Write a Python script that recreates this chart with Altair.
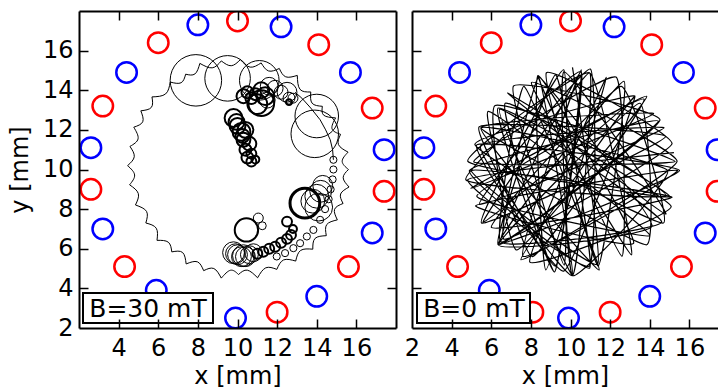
import altair as alt
import pandas as pd
import numpy as np

FONT = "DejaVu Sans"
H = 317
W_LEFT = 317
W_RIGHT = 306
TICKS = [4, 6, 8, 10, 12, 14, 16]

# ---- coil positions (mm) ----
red_x = [10.0, 6.0, 14.1, 3.2, 16.8, 2.6, 17.4, 4.3, 15.6, 12.0, 8.1]
red_y = [17.5, 16.4, 16.3, 13.2, 13.1, 9.0, 8.9, 5.1, 5.1, 2.8, 2.8]
blue_x = [8.0, 12.2, 4.4, 15.7, 2.6, 17.4, 3.2, 16.8, 5.9, 14.0, 9.9]
blue_y = [17.3, 17.2, 14.9, 14.9, 11.1, 11.0, 7.0, 6.8, 3.9, 3.6, 2.5]

# ---- B = 30 mT : skipping-orbit ring (polar about the ring centre) ----
RING_CX, RING_CY = 10.05, 10.0
ring_cusp_ang = [0, 9, 19, 28, 37, 47, 58, 68, 78, 89, 99, 110, 119, 128, 140, 149, 158, 168,
                 178, 188, 199, 210, 221, 231, 241, 251, 261, 270, 280, 291, 302, 313, 323,
                 333, 342, 351]
ring_cusp_rad = [5.55, 5.6, 5.45, 5.55, 5.3, 5.35, 5.6, 5.5, 5.5, 5.55, 5.55, 5.7, 5.5, 5.6,
                 5.7, 5.75, 5.7, 5.6, 5.6, 5.55, 5.5, 5.4, 5.45, 5.35, 5.45, 5.4, 5.55, 5.3,
                 5.55, 5.4, 5.45, 5.5, 5.55, 5.6, 5.55, 5.65]
ring_mid_ang = [4.5, 14, 23.5, 32.5, 42, 52.5, 63, 73, 83.5, 94, 104.5, 114.5, 123.5, 134,
                144.5, 153.5, 163, 173, 183, 193.5, 204.5, 215.5, 226, 236, 246, 256, 265.5,
                275, 285.5, 296.5, 307.5, 318, 328, 337.5, 346.5, 355.5]
ring_mid_rad = [5.25, 5.2, 5.15, 5.1, 5.0, 5.1, 5.25, 5.2, 5.2, 5.25, 5.3, 5.3, 5.25, 5.3,
                5.4, 5.4, 5.3, 5.3, 5.25, 5.2, 5.1, 5.1, 5.1, 5.05, 5.1, 5.15, 5.1, 5.1, 5.15,
                5.1, 5.15, 5.2, 5.25, 5.25, 5.3, 5.3]
arc_x = [12.9, 13.25, 13.7, 14.17, 14.45, 14.68, 14.8, 14.84]
arc_y = [13.9, 13.6, 13.1, 12.51, 12.0, 11.5, 11.0, 10.49]

# cyclotron orbits: centre, radius (mm), line weight
orb_x = [7.9, 9.5, 11.1, 14.0, 13.9, 12.5,
         10.3, 10.5, 10.7, 11.0, 11.4, 11.2, 11.6, 11.9, 12.2, 12.6, 12.6, 12.8, 11.2, 10.9, 11.5,
         9.8, 10.0, 10.2, 10.4, 10.3, 10.6, 10.4, 10.7, 10.5, 10.7, 10.9, 9.95, 10.25,
         9.8, 10.0, 10.2, 10.4, 10.6, 10.8, 9.9, 10.3, 10.45, 11.05, 11.25,
         11.0, 11.3, 11.6, 11.9, 12.2, 12.5, 12.7, 12.5, 12.8,
         13.4, 13.8, 14.0, 14.2, 14.3, 14.1,
         14.84, 14.84, 14.8, 14.7, 14.6, 14.42, 14.17, 13.83, 13.5, 13.16, 12.82, 12.4, 11.98]
orb_y = [14.5, 14.6, 14.5, 12.7, 11.8, 13.9,
         13.7, 13.9, 13.6, 13.3, 13.7, 14.0, 14.2, 14.1, 13.9, 13.6, 13.4, 13.6, 13.35, 13.8, 13.5,
         12.6, 12.2, 11.9, 12.0, 11.5, 11.3, 11.0, 10.8, 10.6, 10.4, 10.5, 12.4, 11.7,
         5.8, 5.7, 5.6, 5.6, 5.7, 5.8, 5.75, 5.65, 6.95, 7.55, 7.16,
         5.75, 5.85, 6.0, 6.1, 6.3, 6.5, 6.7, 7.37, 7.0,
         8.3, 8.4, 8.65, 8.9, 9.2, 8.1,
         10.49, 10.0, 9.5, 9.0, 8.5, 8.0, 7.46, 6.95, 6.62, 6.28, 6.03, 5.78, 5.61]
orb_r = [1.3, 1.15, 1.0, 1.1, 1.2, 0.5,
         0.35, 0.3, 0.3, 0.5, 0.45, 0.4, 0.45, 0.4, 0.35, 0.3, 0.15, 0.25, 0.65, 0.3, 0.4,
         0.45, 0.4, 0.45, 0.4, 0.35, 0.35, 0.3, 0.25, 0.3, 0.25, 0.2, 0.4, 0.35,
         0.55, 0.5, 0.5, 0.5, 0.45, 0.45, 0.5, 0.55, 0.59, 0.25, 0.2,
         0.25, 0.25, 0.25, 0.25, 0.25, 0.25, 0.25, 0.25, 0.2,
         0.75, 0.6, 0.6, 0.55, 0.5, 0.7,
         0.18, 0.18, 0.18, 0.18, 0.18, 0.18, 0.18, 0.18, 0.18, 0.18, 0.18, 0.18, 0.18]
orb_w = [1, 1, 1, 1, 1, 1,
         2, 2, 2, 2, 2, 2, 1, 1, 1, 1, 2, 1, 2, 2, 1,
         2, 2, 2, 2, 2, 2, 2, 2, 2, 2, 2, 2, 2,
         1, 1, 1, 1, 1, 1, 1, 1, 2, 1, 1,
         2, 2, 2, 2, 2, 2, 2, 2, 2,
         3, 1, 1, 1, 1, 1,
         1, 1, 1, 1, 1, 1, 1, 1, 1, 1, 1, 1, 1]

# ---- B = 0 mT : chaotic trajectory, bounce points read as angle (deg) / radius (mm)
TRAJ_CX, TRAJ_CY = 10.1, 9.95
traj_ang = [10,
            185, 280, 80, 200, 25, 165, 270, 80, 210, 50, 165, 315, 45, 225, 0, 165, 265, 50, 240, 5,
            115, 305, 80, 175, 345, 135, 260, 85, 185, 345, 130, 335, 95, 270, 0, 155, 285, 120, 225, 30,
            180, 280, 100, 225, 30, 125, 265, 95, 210, 20, 155, 260, 85, 240, 0, 200, 310, 110, 255, 70,
            245, 340, 140, 260, 85, 225, 330, 140, 270, 110, 225, 15, 105, 285, 60, 225, 325, 110, 300, 65,
            175, 5, 140, 235, 45, 195, 320, 145, 245, 45, 190, 35, 155, 330, 60, 215, 345, 180, 285, 90]
traj_rad = [5.2,
            5.3, 4.9, 5.2, 5.0, 5.1, 4.8, 5.3, 5.0, 5.2, 4.9, 5.1, 5.3, 4.8, 5.2, 5.4, 5.0, 5.1, 4.9, 5.2, 5.3,
            4.9, 5.2, 5.0, 5.3, 5.1, 4.8, 5.2, 5.0, 5.4, 4.9, 5.1, 5.2, 5.0, 5.3, 4.8, 5.1, 5.2, 4.9, 5.1, 5.0,
            5.2, 5.0, 4.9, 5.3, 5.1, 5.2, 4.8, 5.1, 5.3, 5.0, 5.2, 4.9, 5.1, 5.0, 5.3, 5.2, 4.8, 5.1, 5.2, 5.0,
            5.1, 5.3, 4.9, 5.2, 5.0, 5.1, 5.2, 4.8, 5.3, 5.0, 4.9, 5.2, 5.1, 5.0, 5.2, 5.3, 4.9, 5.1, 5.0, 5.2,
            5.0, 5.2, 5.1, 4.9, 5.3, 5.0, 5.1, 5.2, 4.8, 5.1, 5.2, 5.0, 5.1, 5.3, 4.9, 5.0, 5.2, 5.1, 4.9, 5.2]


def polar(cx, cy, ang, rad):
    a = np.radians(np.asarray(ang, dtype=float))
    r = np.asarray(rad, dtype=float)
    return cx + r * np.cos(a), cy + r * np.sin(a)


coil_red = pd.DataFrame({"x": red_x, "y": red_y})
coil_blue = pd.DataFrame({"x": blue_x, "y": blue_y})

cx_, cy_ = polar(RING_CX, RING_CY, ring_cusp_ang, ring_cusp_rad)
mx_, my_ = polar(RING_CX, RING_CY, ring_mid_ang, ring_mid_rad)
rows = []
n = len(ring_cusp_ang)
for k in range(n):
    j = (k + 1) % n
    rows += [{"x": cx_[k], "y": cy_[k], "seg": k, "o": 0},
             {"x": mx_[k], "y": my_[k], "seg": k, "o": 1},
             {"x": cx_[j], "y": cy_[j], "seg": k, "o": 2}]
ring = pd.DataFrame(rows)
arc = pd.DataFrame({"x": arc_x, "y": arc_y, "o": range(len(arc_x))})
orbits = pd.DataFrame({"x": orb_x, "y": orb_y, "r": orb_r, "w": orb_w})
tx_, ty_ = polar(TRAJ_CX, TRAJ_CY, traj_ang, traj_rad)
traj = pd.DataFrame({"x": tx_, "y": ty_, "o": range(len(traj_ang))})

YS = alt.Scale(domain=[2, 18], nice=False, zero=False)
XS_L = alt.Scale(domain=[2, 18], nice=False, zero=False)
XS_R = alt.Scale(domain=[2, 2 + 16 * W_RIGHT / W_LEFT], nice=False, zero=False)


def label_x_axis(vals):
    return alt.Axis(orient="bottom", values=vals, ticks=False, domain=False, grid=False,
                    labelFont=FONT, labelFontSize=24, labelColor="black",
                    labelPadding=8, labelFlush=False, labelOverlap=False,
                    title="x [mm]", titleFont=FONT, titleFontSize=24,
                    titleFontWeight="normal", titleColor="black",
                    titleBaseline="alphabetic", titleY=55, zindex=1)


def label_y_axis():
    return alt.Axis(orient="left", values=[2, 4, 6, 8, 10, 12, 14, 16], ticks=False,
                    domain=False, grid=False, labelFont=FONT, labelFontSize=24,
                    labelColor="black", labelPadding=6, labelFlush=False, labelOverlap=False,
                    title="y [mm]", titleFont=FONT, titleFontSize=24,
                    titleFontWeight="normal", titleColor="black", titlePadding=10, zindex=1)


def frame_axis(orient, off):
    return alt.Axis(orient=orient, offset=-off, values=TICKS, labels=False, title=None,
                    grid=False, tickSize=9, tickWidth=1.5, tickColor="black",
                    domainColor="black", domainWidth=2, zindex=1)


def panel(width, xs, xvals, show_y, right_frame, extra, text, box_x0, box_x1, text_x):
    red = alt.Chart(coil_red).mark_point(shape="circle", filled=False, color="#ff0000",
                                         strokeWidth=2.5, size=420, opacity=1, clip=True).encode(
        x=alt.X("x:Q", scale=xs, axis=label_x_axis(xvals)),
        y=alt.Y("y:Q", scale=YS, axis=label_y_axis() if show_y else None),
    )
    blue = alt.Chart(coil_blue).mark_point(shape="circle", filled=False, color="#0000ff",
                                           strokeWidth=2.5, size=420, opacity=1, clip=True).encode(
        x=alt.X("x:Q", scale=xs, axis=frame_axis("top", H)),
        y=alt.Y("y:Q", scale=YS, axis=frame_axis("right", width)),
    )
    first, rest = extra[0], extra[1:]
    first = first.encode(
        x=alt.X("x:Q", scale=xs, axis=frame_axis("bottom", H)),
        y=alt.Y("y:Q", scale=YS,
                axis=frame_axis("left", width) if right_frame else None),
    )
    rest = [c.encode(x=alt.X("x:Q", scale=xs, axis=None), y=alt.Y("y:Q", scale=YS, axis=None))
            for c in rest]
    d = alt.Data(values=[{"t": text}])
    rect = alt.Chart(d).mark_rect(fill="white", stroke="black", strokeWidth=2).encode(
        x=alt.value(box_x0), x2=alt.value(box_x1), y=alt.value(282), y2=alt.value(312))
    txt = alt.Chart(d).mark_text(font=FONT, fontSize=25, color="black", align="center",
                                 baseline="alphabetic").encode(
        x=alt.value(text_x), y=alt.value(306), text="t:N")
    layers = [red, blue, first] + rest + [rect, txt]
    return alt.layer(*layers).resolve_axis(x="independent", y="independent").properties(
        width=width, height=H)


ring_line = alt.Chart(ring).mark_line(color="black", strokeWidth=1, clip=True,
                                      interpolate="natural").encode(
    detail="seg:N", order="o:Q")
arc_line = alt.Chart(arc).mark_line(color="black", strokeWidth=1, clip=True).encode(
    order="o:Q")
orbit_pts = alt.Chart(orbits).mark_point(shape="circle", filled=False, color="black",
                                         opacity=1, clip=True).encode(
    size=alt.Size("r:Q", scale=alt.Scale(type="pow", exponent=2, domain=[0, 1],
                                         range=[0, 1568]), legend=None),
    strokeWidth=alt.StrokeWidth("w:Q", scale=None),
)
traj_line = alt.Chart(traj).mark_line(color="black", strokeWidth=1.2, clip=True,
                                      interpolate="cardinal", tension=0.65).encode(
    order="o:Q")

left = panel(W_LEFT, XS_L, [4, 6, 8, 10, 12, 14, 16], True, True,
             [ring_line, arc_line, orbit_pts], "B=30 mT", 4, 134, 69)
right = panel(W_RIGHT, XS_R, [2, 4, 6, 8, 10, 12, 14, 16], False, False,
              [traj_line], "B=0 mT", 5, 118, 62)

chart = alt.hconcat(left, right, spacing=7).configure_view(stroke=None).properties(
    padding={"left": 8, "top": 10, "right": 0, "bottom": 0})

chart.save("out.html", embed_options={"renderer": "svg", "actions": False})
